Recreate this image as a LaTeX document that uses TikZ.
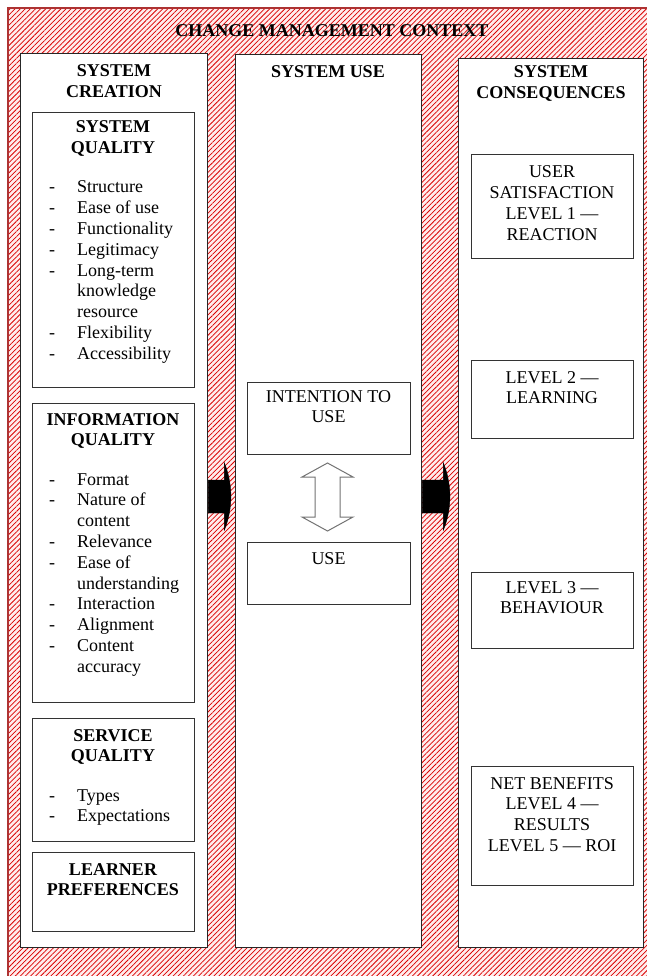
\documentclass[tikz,border=0pt]{standalone}
\usepackage{fontspec}
\setmainfont{Liberation Serif}
\usetikzlibrary{patterns.meta}

% stacked lines, first baseline = node baseline
\newcommand{\lines}[1]{\begin{tabular}[t]{@{}c@{}}#1\end{tabular}}
% dashed list, dash column then item text
\newcommand{\items}[1]{\begin{tabular}[t]{@{}p{28pt}@{}l@{}}#1\end{tabular}}

\tikzset{
  txt/.style={inner sep=0pt, font=\fontsize{18}{20.8}\selectfont},
  head/.style={txt, font=\fontsize{18}{20.8}\selectfont\bfseries, anchor=base},
  plain/.style={txt, anchor=base},
  list/.style={txt, anchor=base west},
  col/.style={draw=black!85, line width=1.4pt, fill=white, anchor=north west, inner sep=0pt},
  box/.style={draw=black!80, line width=1.3pt, fill=white, anchor=north west, inner sep=0pt},
  blockarrow/.style={fill=black, draw=black, line width=0.4pt},
  hollowarrow/.style={fill=white, draw=black!55, line width=1pt, line join=miter}
}

\begin{document}
\begin{tikzpicture}[x=1pt, y=-1pt]
\useasboundingbox (0,0) rectangle (647,976);
\clip (0,0) rectangle (647,976);

% hatched surround
\fill[red!7] (8,8) rectangle (660,990);
\fill[pattern={Lines[angle=45, distance=3.6pt, line width=0.75pt]}, pattern color=red!85!black]
  (8,8) rectangle (660,990);
\draw[red!60!black!80, line width=2.2pt] (8,8) rectangle (660,990);

\node[head] (context) at (332,37) {CHANGE MANAGEMENT CONTEXT};

% three columns
\node[col, minimum width=187pt, minimum height=894pt] (creation) at (20,53) {};
\node[col, minimum width=186pt, minimum height=893pt] (usecol) at (235,54) {};
\node[col, minimum width=185pt, minimum height=889pt] (conseq) at (458,58) {};

\node[head] (creationT) at (114,77) {\lines{SYSTEM\\CREATION}};
\node[head] (usecolT) at (328,78) {SYSTEM USE};
\node[head] (conseqT) at (551,78) {\lines{SYSTEM\\CONSEQUENCES}};

% system creation boxes
\node[box, minimum width=162pt, minimum height=275pt] (sq) at (32,112) {};
\node[head] (sqT) at (113,133) {\lines{SYSTEM\\QUALITY}};
\node[list] (sqL) at (49,193) {\items{-&Structure\\-&Ease of use\\-&Functionality\\-&Legitimacy\\-&Long-term\\&knowledge\\&resource\\-&Flexibility\\-&Accessibility}};

\node[box, minimum width=162pt, minimum height=299pt] (iq) at (32,403) {};
\node[head] (iqT) at (113,425) {\lines{INFORMATION\\QUALITY}};
\node[list] (iqL) at (49,485) {\items{-&Format\\-&Nature of\\&content\\-&Relevance\\-&Ease of\\&understanding\\-&Interaction\\-&Alignment\\-&Content\\&accuracy}};

\node[box, minimum width=162pt, minimum height=123pt] (svq) at (32,718) {};
\node[head] (svqT) at (113,741) {\lines{SERVICE\\QUALITY}};
\node[list] (svqL) at (49,801) {\items{-&Types\\-&Expectations}};

\node[box, minimum width=162pt, minimum height=79pt] (lp) at (32,852) {};
\node[head] (lpT) at (113,875) {\lines{LEARNER\\PREFERENCES}};

% system use boxes
\node[box, minimum width=163pt, minimum height=72pt] (itu) at (247,382) {};
\node[plain] (ituT) at (328.5,402) {\lines{INTENTION TO\\USE}};
\node[box, minimum width=163pt, minimum height=62pt] (use) at (247,542) {};
\node[plain] (useT) at (328.5,564) {USE};

% two-way block arrow between intention and use
\draw[hollowarrow] (327.5,463) -- (353,477) -- (340,477) -- (340,517) -- (353,517)
  -- (327.5,531) -- (302,517) -- (315,517) -- (315,477) -- (302,477) -- cycle;

% system consequences boxes
\node[box, minimum width=162pt, minimum height=104pt] (us) at (471,154) {};
\node[plain] (usT) at (552,178) {\lines{USER\\SATISFACTION\\LEVEL 1 —\\REACTION}};
\node[box, minimum width=162pt, minimum height=78pt] (l2) at (471,360) {};
\node[plain] (l2T) at (552,383) {\lines{LEVEL 2 —\\LEARNING}};
\node[box, minimum width=162pt, minimum height=76pt] (l3) at (471,572) {};
\node[plain] (l3T) at (552,593) {\lines{LEVEL 3 —\\BEHAVIOUR}};
\node[box, minimum width=162pt, minimum height=119pt] (nb) at (471,766) {};
\node[plain] (nbT) at (552,789) {\lines{NET BENEFITS\\LEVEL 4 —\\RESULTS\\LEVEL 5 — ROI}};

% black arrows from column to column
\coordinate (a1) at (creation.east |- 0,496.5);
\coordinate (a2) at (usecol.east |- 0,496.5);
\fill[blockarrow] (a1) ++(0,-16.5) rectangle ++(16,33)
  ++(0,-50) .. controls ++(4,10) and ++(0,-12) .. ++(6.5,33.5)
  .. controls ++(0,12) and ++(4,-10) .. ++(-6.5,33.5) -- cycle;
\fill[blockarrow] (a2) ++(0,-16.5) rectangle ++(21,33)
  ++(0,-50) .. controls ++(4,10) and ++(0,-12) .. ++(6.5,33.5)
  .. controls ++(0,12) and ++(4,-10) .. ++(-6.5,33.5) -- cycle;
\end{tikzpicture}
\end{document}
